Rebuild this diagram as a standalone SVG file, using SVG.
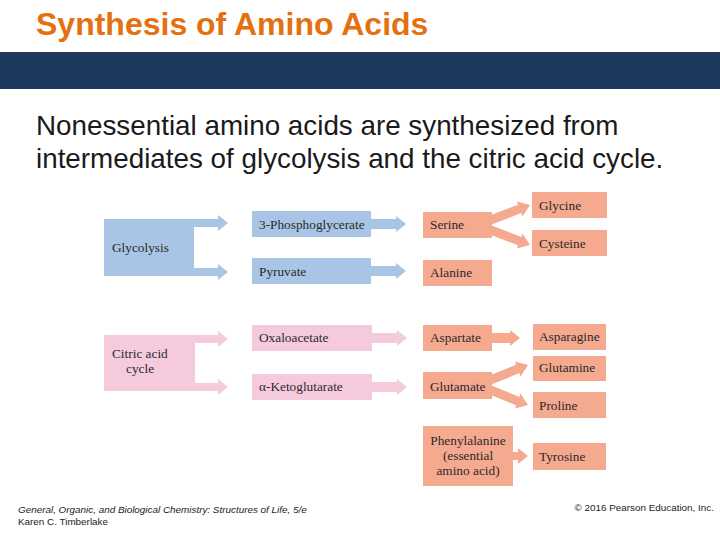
<svg xmlns="http://www.w3.org/2000/svg" width="720" height="540" viewBox="0 0 720 540">
<style>
.blue{fill:#A9C5E6}
.pink{fill:#F6CADD}
.sal{fill:#F5A98F}
.lbl{font-family:"Liberation Serif","Times New Roman",serif;font-size:13.3px;fill:#2a2a2a}
.ctr{text-anchor:middle}
.title{font-family:"Liberation Sans",Arial,sans-serif;font-size:32px;font-weight:bold;fill:#E4700F}
.body{font-family:"Liberation Sans",Arial,sans-serif;font-size:27.8px;fill:#1a1a1a}
.foot{font-family:"Liberation Sans",Arial,sans-serif;font-size:9.9px;fill:#222}
</style>
<rect width="720" height="540" fill="#ffffff"/>
<g id="header">
<text class="title" x="36" y="35">Synthesis of Amino Acids</text>
<rect x="0" y="52" width="720" height="37" fill="#1B385E"/>
<text class="body" x="36" y="135">Nonessential amino acids are synthesized from</text>
<text class="body" x="36" y="168">intermediates of glycolysis and the citric acid cycle.</text>
</g>
<g id="connectors">
<polygon class="blue" points="190,219 218,219 218,215 228,223 218,231 218,227 190,227"/>
<polygon class="blue" points="190,268 218,268 218,264 228,272 218,280 218,276 190,276"/>
<polygon class="blue" points="370,219 396,219 396,216 406,224 396,232 396,229 370,229"/>
<polygon class="blue" points="370,266 396,266 396,263 406,271 396,279 396,276 370,276"/>
<polygon class="pink" points="190,335 218,335 218,331 228,339 218,347 218,343 190,343"/>
<polygon class="pink" points="190,383 218,383 218,379 228,387 218,395 218,391 190,391"/>
<polygon class="pink" points="370,333 397,333 397,330 407,338 397,346 397,343 370,343"/>
<polygon class="pink" points="370,382 397,382 397,379 407,387 397,395 397,392 370,392"/>
<polygon class="sal" points="486.4,216.8 518.1,204.7 516.9,201.4 530,205 522.5,216.4 521.3,213.1 489.6,225.2"/>
<polygon class="sal" points="486.4,233.2 518.1,245.3 516.9,248.6 530,245 522.5,233.6 521.3,236.9 489.6,224.8"/>
<polygon class="sal" points="486.4,376.8 516.1,364.7 514.9,361.4 528,365 520.5,376.4 519.3,373.1 489.6,385.2"/>
<polygon class="sal" points="486.4,393.2 516.1,405.3 514.9,408.6 528,405 520.5,393.6 519.3,396.9 489.6,384.8"/>
<polygon class="sal" points="490,333 510,333 510,330 520,338 510,346 510,343 490,343"/>
<polygon class="sal" points="510,452 518,452 518,448 528,456 518,464 518,460 510,460"/>
</g>
<g id="glycolysis"><rect class="blue" x="104" y="219" width="90" height="57"/><text class="lbl" x="112" y="252">Glycolysis</text></g>
<g id="phosphoglycerate"><rect class="blue" x="252" y="211" width="119" height="26"/><text class="lbl" x="259" y="229">3-Phosphoglycerate</text></g>
<g id="pyruvate"><rect class="blue" x="252" y="258" width="119" height="26"/><text class="lbl" x="259" y="276">Pyruvate</text></g>
<g id="serine"><rect class="sal" x="423" y="212" width="69" height="26"/><text class="lbl" x="430" y="229">Serine</text></g>
<g id="alanine"><rect class="sal" x="423" y="260" width="69" height="26"/><text class="lbl" x="430" y="277">Alanine</text></g>
<g id="glycine"><rect class="sal" x="532" y="192" width="75" height="26"/><text class="lbl" x="539" y="210">Glycine</text></g>
<g id="cysteine"><rect class="sal" x="532" y="230" width="75" height="26"/><text class="lbl" x="539" y="248">Cysteine</text></g>
<g id="citric"><rect class="pink" x="104" y="335" width="91" height="56"/><text class="lbl" x="112" y="358">Citric acid</text><text class="lbl" x="126" y="373">cycle</text></g>
<g id="oxaloacetate"><rect class="pink" x="252" y="325" width="120" height="26"/><text class="lbl" x="259" y="342">Oxaloacetate</text></g>
<g id="ketoglutarate"><rect class="pink" x="252" y="374" width="120" height="26"/><text class="lbl" x="259" y="391">α-Ketoglutarate</text></g>
<g id="aspartate"><rect class="sal" x="423" y="325" width="69" height="26"/><text class="lbl" x="430" y="342">Aspartate</text></g>
<g id="glutamate"><rect class="sal" x="423" y="372" width="69" height="27"/><text class="lbl" x="430" y="391">Glutamate</text></g>
<g id="asparagine"><rect class="sal" x="533" y="324" width="73" height="26"/><text class="lbl" x="539" y="341">Asparagine</text></g>
<g id="glutamine"><rect class="sal" x="533" y="356" width="73" height="25"/><text class="lbl" x="539" y="372">Glutamine</text></g>
<g id="proline"><rect class="sal" x="533" y="392" width="73" height="26"/><text class="lbl" x="539" y="410">Proline</text></g>
<g id="phenylalanine"><rect class="sal" x="423" y="426" width="90" height="60"/><text class="lbl ctr" x="468" y="445">Phenylalanine</text><text class="lbl ctr" x="468" y="460">(essential</text><text class="lbl ctr" x="468" y="475">amino acid)</text></g>
<g id="tyrosine"><rect class="sal" x="533" y="443" width="73" height="27"/><text class="lbl" x="539" y="461">Tyrosine</text></g>
<g id="footer">
<text class="foot" x="18" y="513" font-style="italic">General, Organic, and Biological Chemistry: Structures of Life, 5/e</text>
<text class="foot" x="18" y="525">Karen C. Timberlake</text>
<text class="foot" x="714" y="511" text-anchor="end">© 2016 Pearson Education, Inc.</text>
</g>
</svg>
